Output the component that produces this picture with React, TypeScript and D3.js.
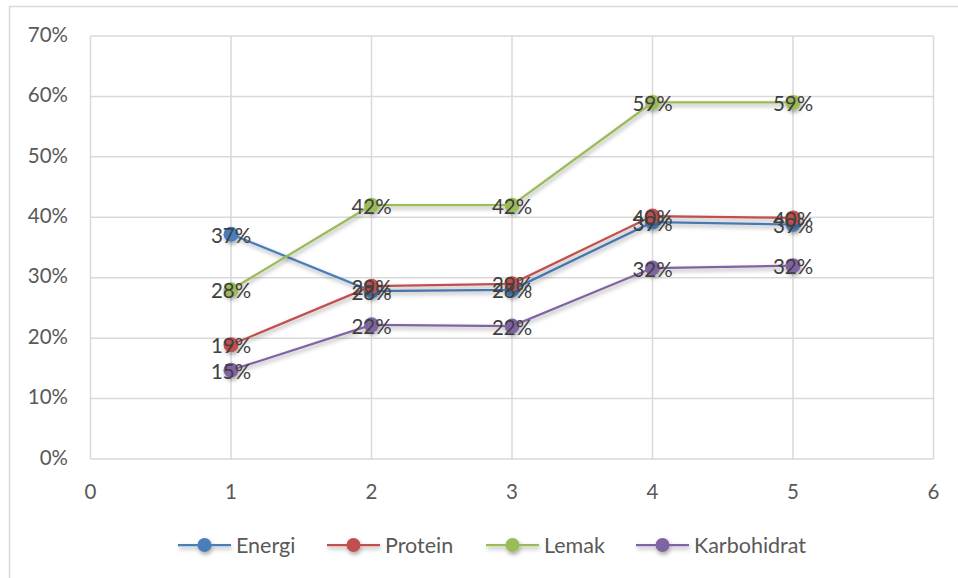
import React from "react";
import * as d3 from "d3";

const xValues = [1, 2, 3, 4, 5];
const seriesNames = ["Energi", "Protein", "Lemak", "Karbohidrat"];
const energi = [0.372, 0.278, 0.28, 0.392, 0.388];
const protein = [0.189, 0.286, 0.29, 0.402, 0.399];
const lemak = [0.28, 0.42, 0.42, 0.59, 0.59];
const karbohidrat = [0.147, 0.222, 0.22, 0.316, 0.32];
const colors = ["#4A7EBB", "#C0504D", "#9BBB59", "#8064A2"];
const xTicks = [0, 1, 2, 3, 4, 5, 6];
const yTicks = [0, 0.1, 0.2, 0.3, 0.4, 0.5, 0.6, 0.7];

const W = 958;
const H = 578;
const FONT = "Lato, 'Open Sans', sans-serif";

export default function App() {
  const allSeries = [energi, protein, lemak, karbohidrat];
  const x = d3.scaleLinear().domain([0, 6]).range([90.5, 933.5]);
  const y = d3.scaleLinear().domain([0, 0.7]).range([459, 36]);
  const line = d3
    .line<number>()
    .x((_, i) => x(xValues[i]))
    .y((d) => y(d));
  const pct = d3.format(".0%");

  const legendItems = [
    { lx: 178, tx: 236 },
    { lx: 327, tx: 385 },
    { lx: 486, tx: 544 },
    { lx: 636, tx: 694 },
  ];

  return (
    <svg
      width={W}
      height={H}
      style={{ position: "absolute", left: 0, top: 0, background: "#fff" }}
    >
      <defs>
        <filter id="sh" x="-50%" y="-50%" width="200%" height="200%">
          <feDropShadow dx="1" dy="2.5" stdDeviation="2" floodColor="#000" floodOpacity="0.35" />
        </filter>
      </defs>
      <rect x={0} y={0} width={W} height={H} fill="#fff" />
      {/* frame */}
      <line x1={9.5} y1={6} x2={9.5} y2={H} stroke="#d9d9d9" strokeWidth={1.5} />
      <line x1={9} y1={6.5} x2={W} y2={6.5} stroke="#d9d9d9" strokeWidth={1.5} />

      {/* gridlines */}
      {yTicks.map((t) => (
        <line
          key={"gy" + t}
          x1={x(0)}
          x2={x(6)}
          y1={y(t)}
          y2={y(t)}
          stroke="#d9d9d9"
          strokeWidth={1.5}
        />
      ))}
      {xTicks.map((t) => (
        <line
          key={"gx" + t}
          x1={x(t)}
          x2={x(t)}
          y1={y(0)}
          y2={y(0.7)}
          stroke="#d9d9d9"
          strokeWidth={1.5}
        />
      ))}

      {/* axis labels */}
      {yTicks.map((t) => (
        <text
          key={"ty" + t}
          x={68}
          y={y(t) - 1.5}
          dy="0.35em"
          textAnchor="end"
          fontFamily={FONT}
          fontSize={20.5}
          fill="#595959"
        >
          {pct(t)}
        </text>
      ))}
      {xTicks.map((t) => (
        <text
          key={"tx" + t}
          x={x(t)}
          y={492}
          dy="0.35em"
          textAnchor="middle"
          fontFamily={FONT}
          fontSize={20.5}
          fill="#595959"
        >
          {t}
        </text>
      ))}

      {/* series */}
      {allSeries.map((s, si) => (
        <g key={"s" + si} filter="url(#sh)">
          <path d={line(s) || ""} fill="none" stroke={colors[si]} strokeWidth={2.25} />
          {s.map((v, i) => (
            <circle key={i} cx={x(xValues[i])} cy={y(v)} r={7.5} fill={colors[si]} />
          ))}
        </g>
      ))}

      {/* data labels */}
      {allSeries.map((s, si) => (
        <g key={"l" + si}>
          {s.map((v, i) => (
            <text
              key={i}
              x={x(xValues[i])}
              y={y(v) + 1.5}
              dy="0.35em"
              textAnchor="middle"
              fontFamily={FONT}
              fontSize={20.5}
              fill="#404040"
            >
              {pct(v)}
            </text>
          ))}
        </g>
      ))}

      {/* legend */}
      {seriesNames.map((n, i) => (
        <g key={"lg" + i}>
          <g filter="url(#sh)">
            <line
              x1={legendItems[i].lx}
              x2={legendItems[i].lx + 53}
              y1={545}
              y2={545}
              stroke={colors[i]}
              strokeWidth={2.25}
            />
            <circle cx={legendItems[i].lx + 26.5} cy={545} r={7} fill={colors[i]} />
          </g>
          <text
            x={legendItems[i].tx}
            y={545}
            dy="0.35em"
            fontFamily={FONT}
            fontSize={21.5}
            fill="#595959"
          >
            {n}
          </text>
        </g>
      ))}
    </svg>
  );
}
